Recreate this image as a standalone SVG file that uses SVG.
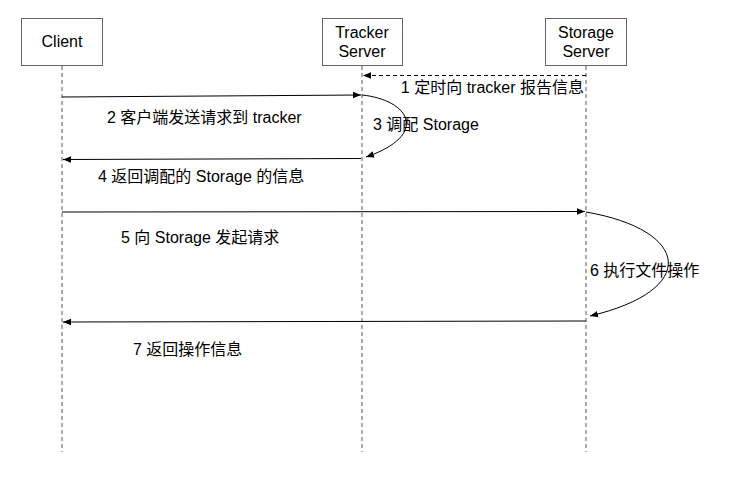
<svg xmlns="http://www.w3.org/2000/svg" width="732" height="486" viewBox="0 0 732 486">
<defs>
<marker id="ah" viewBox="0 0 10 10" refX="10" refY="5" markerWidth="8" markerHeight="8" markerUnits="userSpaceOnUse" orient="auto">
<path d="M0,1 L10,5 L0,9 Z" fill="#000"/>
</marker>
</defs>
<style>
text{font-family:"Liberation Sans","Noto Sans CJK SC",sans-serif;font-size:16px;fill:#000}
.box{fill:#fff;stroke:#666;stroke-width:1}
.life{stroke:#555;stroke-width:1;stroke-dasharray:4 3;fill:none}
.msg{stroke:#000;stroke-width:1;fill:none;marker-end:url(#ah)}
.dash{stroke-dasharray:4 3}
</style>
<rect width="732" height="486" fill="#fff"/>
<g id="client">
<rect class="box" x="21.5" y="18.5" width="81" height="47"/>
<line class="life" x1="62" y1="66" x2="62" y2="452"/>
<text x="62" y="47" text-anchor="middle">Client</text>
</g>
<g id="tracker">
<rect class="box" x="322.5" y="18.5" width="80" height="47"/>
<line class="life" x1="362" y1="66" x2="362" y2="452"/>
<text x="362" y="38" text-anchor="middle">Tracker</text>
<text x="362" y="57" text-anchor="middle">Server</text>
</g>
<g id="storage">
<rect class="box" x="545.5" y="18.5" width="81" height="47"/>
<line class="life" x1="586" y1="66" x2="586" y2="452"/>
<text x="586" y="38" text-anchor="middle">Storage</text>
<text x="586" y="57" text-anchor="middle">Server</text>
</g>
<g id="connectors">
<line class="msg dash" x1="586" y1="75.5" x2="363" y2="75.5"/>
<line class="msg" x1="62" y1="97" x2="361" y2="95"/>
<path class="msg" d="M362,95 C410,100 430,135 366,157"/>
<line class="msg" x1="361" y1="158.5" x2="63" y2="159.5"/>
<line class="msg" x1="62" y1="212" x2="585" y2="211.5"/>
<path class="msg" d="M586,212 C690,230 700,290 590,316"/>
<line class="msg" x1="586" y1="321" x2="63" y2="322"/>
</g>
<g id="labels">
<text x="584" y="93" text-anchor="end">1 定时向 tracker 报告信息</text>
<text x="107" y="123">2 客户端发送请求到 tracker</text>
<text x="373" y="130">3 调配 Storage</text>
<text x="98" y="182">4 返回调配的 Storage 的信息</text>
<text x="121" y="243">5 向 Storage 发起请求</text>
<text x="590" y="276">6 执行文件操作</text>
<text x="133" y="355">7 返回操作信息</text>
</g>
</svg>
